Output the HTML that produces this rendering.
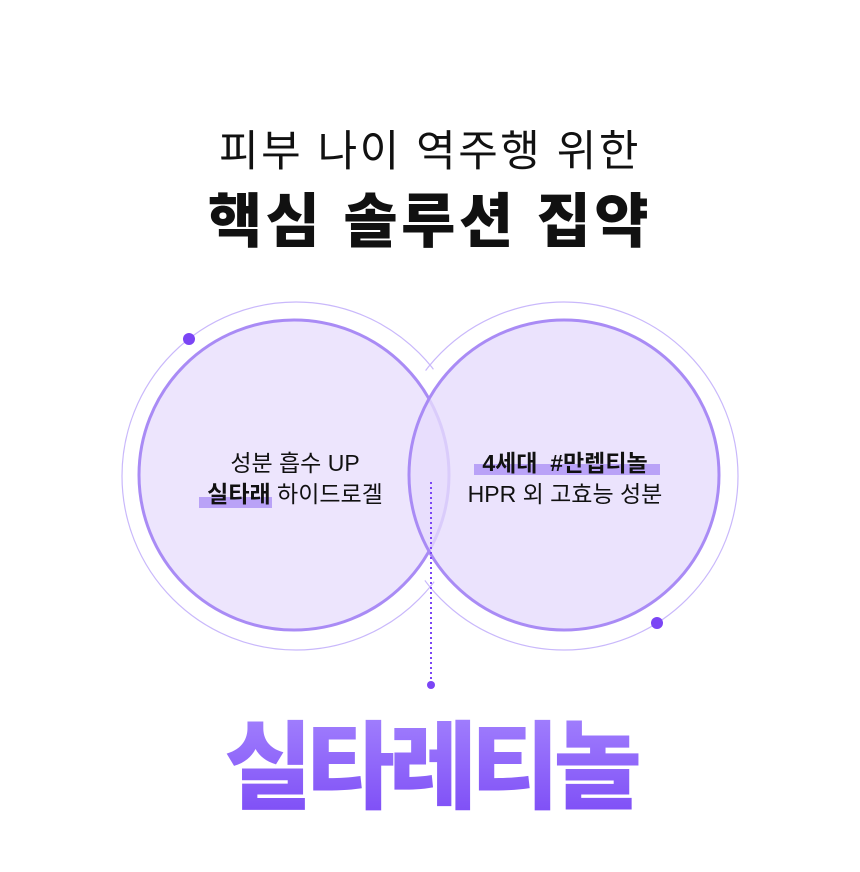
<!DOCTYPE html>
<html><head><meta charset="utf-8"><style>
body{margin:0;width:860px;height:872px;background:#fff;position:relative;overflow:hidden;font-family:"Liberation Sans","Noto Sans CJK KR",sans-serif;}
.t{position:absolute;left:0;width:860px;text-align:center;color:#111;white-space:nowrap;}
</style></head><body>
<div class="t" style="top:117px;font-size:43px;letter-spacing:2.5px;">피부 나이 역주행 위한</div>
<div class="t" style="top:174px;font-size:59px;font-weight:900;letter-spacing:3.5px;">핵심 솔루션 집약</div>
<svg width="860" height="872" style="position:absolute;left:0;top:0">
<circle cx="296" cy="476" r="174" fill="none" stroke="#c9b8fb" stroke-width="1.2"/>
<circle cx="564" cy="476" r="174" fill="none" stroke="#c9b8fb" stroke-width="1.2"/>
<circle cx="294" cy="475" r="168" fill="#fff"/>
<circle cx="564" cy="475" r="168" fill="#fff"/>
<circle cx="294" cy="475" r="155" fill="#ebe3fd" fill-opacity="0.92" stroke="#a98bf5" stroke-width="3"/>
<circle cx="564" cy="475" r="155" fill="#e6dcfd" fill-opacity="0.8" stroke="#a98bf5" stroke-width="3"/>
<circle cx="189" cy="339" r="6" fill="#7b45f5"/>
<circle cx="657" cy="623" r="6" fill="#7b45f5"/>
<line x1="431" y1="482" x2="431" y2="682" stroke="#7b45f5" stroke-width="2" stroke-dasharray="2 3"/>
<circle cx="431" cy="685" r="4" fill="#7b45f5"/>
<rect x="199" y="497" width="73" height="11" fill="#b9a2f7"/>
<rect x="474" y="464" width="186" height="11" fill="#b9a2f7"/>
</svg>
<div class="t" style="top:448px;left:-135px;font-size:23px;line-height:31px;">성분 흡수 UP<br><b>실타래</b> 하이드로겔</div>
<div class="t" style="top:448px;left:135px;font-size:23px;line-height:31px;"><b>4세대 &nbsp;#만렙티놀</b><br>HPR 외 고효능 성분</div>
<div class="t" style="top:690px;font-size:96px;font-weight:900;letter-spacing:-6px;background:linear-gradient(#a98bff,#7a48f5);-webkit-background-clip:text;background-clip:text;color:transparent;">실타레티놀</div>
</body></html>
